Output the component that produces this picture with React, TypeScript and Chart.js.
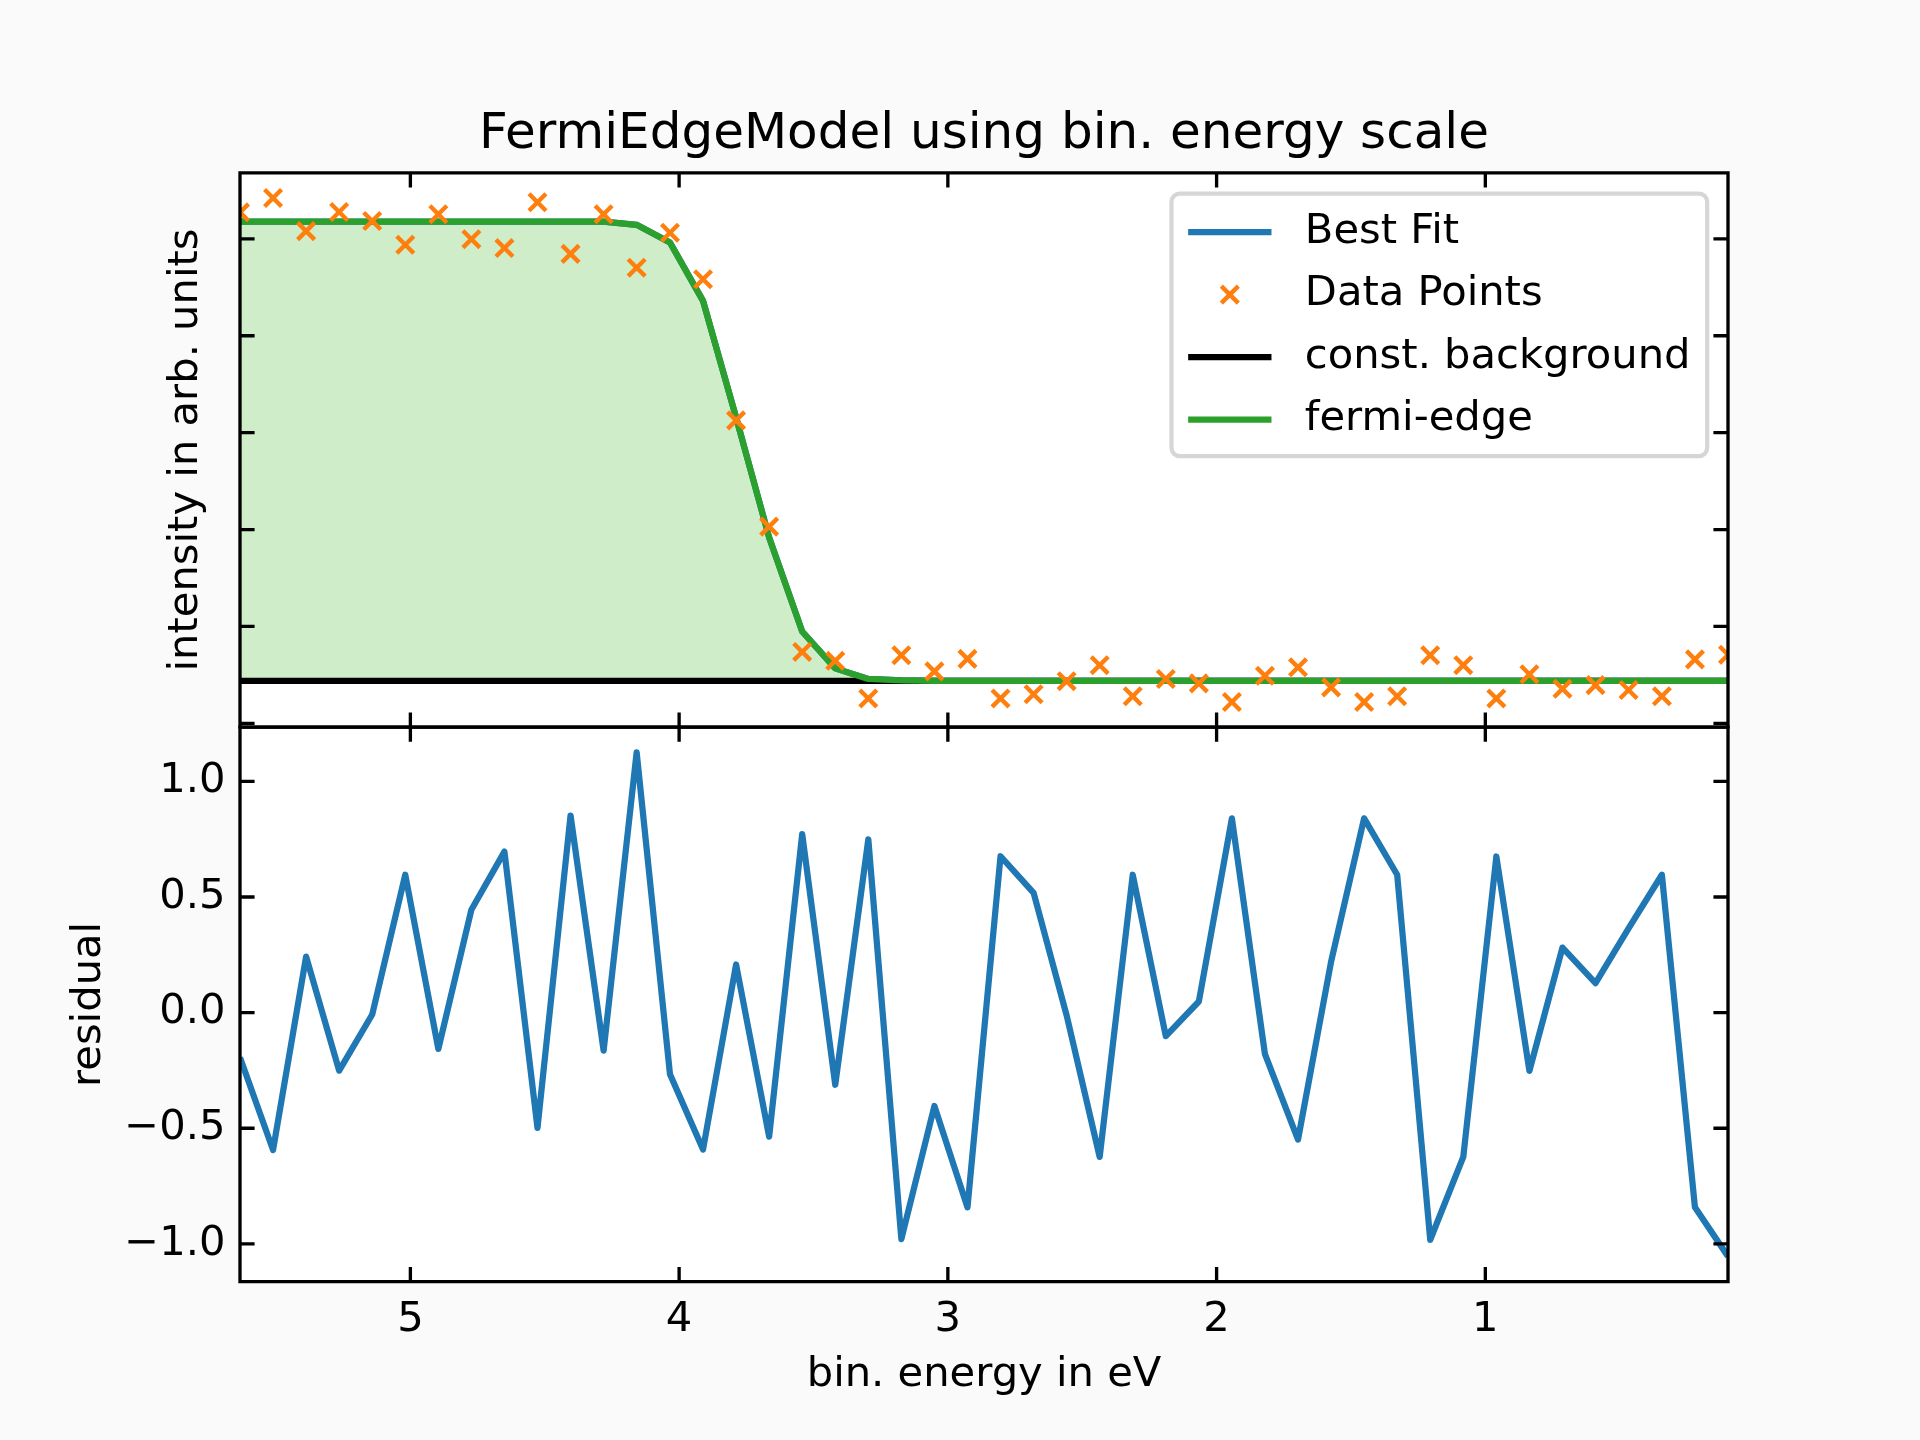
import React, { useEffect, useRef } from 'react';
import { Chart, registerables } from 'chart.js';

Chart.register(...registerables);

// ---------------- data ----------------
const energy = [
  5.634, 5.511, 5.388, 5.265, 5.142, 5.019, 4.896, 4.773, 4.65, 4.527,
  4.404, 4.281, 4.158, 4.034, 3.911, 3.788, 3.665, 3.542, 3.419, 3.296,
  3.173, 3.05, 2.927, 2.804, 2.681, 2.558, 2.435, 2.312, 2.189, 2.066,
  1.943, 1.82, 1.697, 1.574, 1.451, 1.328, 1.205, 1.082, 0.959, 0.836,
  0.713, 0.59, 0.467, 0.343, 0.22, 0.097,
];

const dataPoints = [
  5.274, 5.422, 5.08, 5.278, 5.185, 4.94, 5.254, 4.997, 4.905, 5.378,
  4.845, 5.254, 4.703, 5.063, 4.584, 3.127, 2.03, 0.737, 0.645, 0.257,
  0.703, 0.536, 0.665, 0.257, 0.3, 0.435, 0.6, 0.28, 0.458, 0.412,
  0.22, 0.49, 0.578, 0.371, 0.22, 0.28, 0.703, 0.6, 0.257, 0.506,
  0.356, 0.394, 0.344, 0.28, 0.66, 0.708,
];

const bestFit = [
  5.179, 5.179, 5.179, 5.179, 5.179, 5.179, 5.179, 5.179, 5.179, 5.179,
  5.179, 5.178, 5.145, 4.962, 4.36, 3.158, 1.918, 0.948, 0.567, 0.458,
  0.442, 0.439, 0.439, 0.439, 0.439, 0.439, 0.439, 0.439, 0.439, 0.439,
  0.439, 0.439, 0.439, 0.439, 0.439, 0.439, 0.439, 0.439, 0.439, 0.439,
  0.439, 0.439, 0.439, 0.439, 0.439, 0.439,
];

const fermiEdge = [
  5.179, 5.179, 5.179, 5.179, 5.179, 5.179, 5.179, 5.179, 5.179, 5.179,
  5.179, 5.178, 5.145, 4.962, 4.36, 3.158, 1.918, 0.948, 0.567, 0.458,
  0.442, 0.439, 0.439, 0.439, 0.439, 0.439, 0.439, 0.439, 0.439, 0.439,
  0.439, 0.439, 0.439, 0.439, 0.439, 0.439, 0.439, 0.439, 0.439, 0.439,
  0.439, 0.439, 0.439, 0.439, 0.439, 0.439,
];

const constBackground = 0.439;

const residual = [
  -0.194, -0.594, 0.242, -0.251, -0.008, 0.596, -0.157, 0.445, 0.696, -0.498,
  0.852, -0.164, 1.125, -0.266, -0.592, 0.208, -0.536, 0.772, -0.312, 0.749,
  -0.979, -0.404, -0.842, 0.676, 0.518, -0.012, -0.624, 0.596, -0.102, 0.048,
  0.84, -0.18, -0.549, 0.22, 0.84, 0.596, -0.982, -0.624, 0.675, -0.252,
  0.281, 0.127, 0.364, 0.596, -0.842, -1.054,
];

const xTicks = [5, 4, 3, 2, 1];
const intensityTicks = [0, 1, 2, 3, 4, 5];
const residualTicks = [-1, -0.5, 0, 0.5, 1];

// ---------------- style constants ----------------
const W = 1920;
const H = 1440;
const PT = 300 / 72;
const FS = 10 * PT;
const FONT = 'DejaVu Sans';
const AX_LEFT = 0.125 * W;
const AX_RIGHT_PAD = 0.1 * W;
const AX_TOP = 0.12 * H;
const AX_BOTTOM_PAD = 0.11 * H;
const MARKER_R = 12;

function padded(values: number[]) {
  const lo = Math.min(...values);
  const hi = Math.max(...values);
  const m = (hi - lo) * 0.05;
  return { min: lo - m, max: hi + m };
}

const pts = (ys: number[]) => energy.map((x, i) => ({ x, y: ys[i] }));

const mplPlugin = {
  id: 'mplFrame',
  beforeDraw(chart: any) {
    const { ctx, chartArea: ca } = chart;
    ctx.save();
    ctx.fillStyle = '#fafafa';
    ctx.fillRect(0, 0, chart.width, chart.height);
    ctx.fillStyle = '#ffffff';
    ctx.fillRect(ca.left, ca.top, ca.right - ca.left, ca.bottom - ca.top);
    ctx.restore();
  },
  afterDatasetsDraw(chart: any) {
    const { ctx, chartArea: ca } = chart;
    const xs = chart.scales.x;
    const panels = [chart.scales.yTop, chart.scales.yBot];
    const lw = 0.8 * PT;
    const tl = 3.5 * PT;
    ctx.save();
    ctx.strokeStyle = '#000';
    ctx.lineWidth = lw;
    ctx.lineCap = 'butt';
    for (const p of panels) {
      const top = p.top;
      const bottom = p.bottom;
      ctx.beginPath();
      for (const t of xs.ticks) {
        const px = xs.getPixelForValue(t.value);
        ctx.moveTo(px, bottom);
        ctx.lineTo(px, bottom - tl);
        ctx.moveTo(px, top);
        ctx.lineTo(px, top + tl);
      }
      for (const t of p.ticks) {
        const py = p.getPixelForValue(t.value);
        ctx.moveTo(ca.left, py);
        ctx.lineTo(ca.left + tl, py);
        ctx.moveTo(ca.right, py);
        ctx.lineTo(ca.right - tl, py);
      }
      ctx.stroke();
      ctx.beginPath();
      ctx.rect(ca.left, top, ca.right - ca.left, bottom - top);
      ctx.stroke();
    }
    ctx.restore();
  },
  afterDraw(chart: any) {
    const { ctx, chartArea: ca } = chart;
    const yT = chart.scales.yTop;
    const items = chart.data.datasets.filter((d: any) => d.yAxisID === 'yTop');
    ctx.save();
    ctx.font = `${FS}px "${FONT}"`;
    const maxW = Math.max(...items.map((d: any) => ctx.measureText(d.label).width));
    const pad = 0.4 * FS;
    const hl = 2 * FS;
    const htp = 0.8 * FS;
    const bap = 0.5 * FS;
    const w = pad + hl + htp + maxW + pad;
    const h = items.length * FS + (items.length - 1) * 0.5 * FS + 2 * pad;
    const right = ca.right - bap;
    const top = yT.top + bap;
    const left = right - w;
    ctx.beginPath();
    (ctx as any).roundRect(left, top, w, h, 0.2 * FS);
    ctx.fillStyle = 'rgba(255,255,255,0.8)';
    ctx.fill();
    ctx.strokeStyle = 'rgba(204,204,204,0.8)';
    ctx.lineWidth = 1 * PT;
    ctx.stroke();
    items.forEach((d: any, i: number) => {
      const cy = top + pad + 0.5 * FS + i * 1.5 * FS + 1;
      const hx0 = left + pad;
      const hx1 = hx0 + hl;
      if (d.showLine === false) {
        const cx = (hx0 + hx1) / 2;
        const o = d.pointRadius * Math.SQRT1_2;
        ctx.beginPath();
        ctx.moveTo(cx - o, cy - o);
        ctx.lineTo(cx + o, cy + o);
        ctx.moveTo(cx + o, cy - o);
        ctx.lineTo(cx - o, cy + o);
        ctx.strokeStyle = d.pointBorderColor;
        ctx.lineWidth = d.pointBorderWidth;
        ctx.lineCap = 'butt';
        ctx.stroke();
      } else {
        ctx.beginPath();
        ctx.moveTo(hx0 + d.borderWidth / 2, cy);
        ctx.lineTo(hx1 - d.borderWidth / 2, cy);
        ctx.strokeStyle = d.borderColor;
        ctx.lineWidth = d.borderWidth;
        ctx.lineCap = 'square';
        ctx.stroke();
      }
      ctx.fillStyle = '#000';
      ctx.textBaseline = 'middle';
      ctx.textAlign = 'left';
      ctx.fillText(d.label, hx1 + htp, cy);
    });
    ctx.restore();
  },
};

export default function App() {
  const ref = useRef<HTMLCanvasElement | null>(null);

  useEffect(() => {
    if (!ref.current) return;
    const topRange = padded([...dataPoints, ...bestFit, ...fermiEdge, constBackground]);
    const botRange = padded(residual);
    const tickFont = { family: FONT, size: FS, lineHeight: 1.2 };
    const lineW = 1.5 * PT;
    const titleLH = 12 * PT * 1.2;
    const titlePadBottom = 7.6;

    const chart = new Chart(ref.current, {
      type: 'line',
      data: {
        datasets: [
          {
            label: 'Best Fit',
            data: pts(bestFit),
            yAxisID: 'yTop',
            borderColor: '#1f77b4',
            borderWidth: lineW,
            pointRadius: 0,
            fill: false,
            tension: 0,
            order: 3,
            clip: 0,
            borderJoinStyle: 'round',
          },
          {
            label: 'Data Points',
            data: pts(dataPoints),
            yAxisID: 'yTop',
            showLine: false,
            pointStyle: 'crossRot',
            pointRadius: MARKER_R,
            borderColor: '#ff7f0e',
            pointBorderColor: '#ff7f0e',
            pointBorderWidth: 1.05 * PT,
            backgroundColor: '#ff7f0e',
            order: 0,
            clip: 0,
          },
          {
            label: 'const. background',
            data: [
              { x: energy[0], y: constBackground },
              { x: energy[energy.length - 1], y: constBackground },
            ],
            yAxisID: 'yTop',
            borderColor: '#000000',
            borderWidth: lineW,
            pointRadius: 0,
            fill: false,
            order: 2,
            clip: 0,
          },
          {
            label: 'fermi-edge',
            data: pts(fermiEdge),
            yAxisID: 'yTop',
            borderColor: '#2ca02c',
            borderWidth: lineW,
            pointRadius: 0,
            fill: { value: constBackground },
            backgroundColor: 'rgb(206,237,200)',
            tension: 0,
            order: 1,
            clip: 0,
            borderJoinStyle: 'round',
          },
          {
            label: 'residual',
            data: pts(residual),
            yAxisID: 'yBot',
            borderColor: '#1f77b4',
            borderWidth: lineW,
            pointRadius: 0,
            fill: false,
            tension: 0,
            order: 4,
            clip: 0,
            borderJoinStyle: 'round',
          },
        ] as any,
      },
      options: {
        responsive: false,
        animation: false,
        devicePixelRatio: 1,
        events: [],
        layout: { padding: { left: 0, top: 0, right: AX_RIGHT_PAD, bottom: 0 } },
        plugins: {
          legend: { display: false },
          tooltip: { enabled: false },
          filler: { drawTime: 'beforeDatasetsDraw' },
          title: {
            display: true,
            fullSize: false,
            text: 'FermiEdgeModel using bin. energy scale',
            color: '#000',
            font: { family: FONT, size: 12 * PT, weight: 'normal', lineHeight: 1.2 },
            padding: { top: AX_TOP - titleLH - titlePadBottom, bottom: titlePadBottom },
          },
        } as any,
        scales: {
          x: {
            type: 'linear',
            position: 'bottom',
            reverse: true,
            min: Math.min(...energy),
            max: Math.max(...energy),
            afterBuildTicks: (s: any) => {
              s.ticks = xTicks.map((v) => ({ value: v }));
            },
            afterFit: (s: any) => {
              s.height = AX_BOTTOM_PAD;
            },
            grid: { display: false, drawTicks: false },
            border: { display: false },
            ticks: {
              color: '#000',
              font: tickFont,
              padding: 14,
              maxRotation: 0,
              autoSkip: false,
              callback: (v: any) => String(v),
            },
            title: {
              display: true,
              text: 'bin. energy in eV',
              color: '#000',
              font: tickFont,
              padding: { top: 0, bottom: 39.5 },
            },
          },
          yTop: {
            type: 'linear',
            position: 'left',
            stack: 'panels',
            stackWeight: 1,
            weight: 2,
            min: topRange.min,
            max: topRange.max,
            afterBuildTicks: (s: any) => {
              s.ticks = intensityTicks.map((v) => ({ value: v }));
            },
            afterFit: (s: any) => {
              s.width = AX_LEFT;
            },
            grid: { display: false, drawTicks: false },
            border: { display: false },
            ticks: { display: false },
            title: {
              display: true,
              text: 'intensity in arb. units',
              color: '#000',
              font: tickFont,
              padding: { top: 161, bottom: 0 },
            },
          },
          yBot: {
            type: 'linear',
            position: 'left',
            stack: 'panels',
            stackWeight: 1,
            weight: 1,
            min: botRange.min,
            max: botRange.max,
            afterBuildTicks: (s: any) => {
              s.ticks = residualTicks.map((v) => ({ value: v }));
            },
            afterFit: (s: any) => {
              s.width = AX_LEFT;
            },
            grid: { display: false, drawTicks: false },
            border: { display: false },
            ticks: {
              color: '#000',
              font: tickFont,
              padding: 3.5 * PT,
              callback: (v: any) => Number(v).toFixed(1).replace('-', '\u2212'),
            },
            title: {
              display: true,
              text: 'residual',
              color: '#000',
              font: tickFont,
              padding: { top: 64, bottom: 0 },
            },
          },
        } as any,
      },
      plugins: [mplPlugin as any],
    });

    return () => chart.destroy();
  }, []);

  return (
    <div style={{ position: 'absolute', left: 0, top: 0, width: W, height: H, background: '#fafafa' }}>
      <canvas ref={ref} width={W} height={H} style={{ display: 'block', width: W, height: H }} />
    </div>
  );
}
